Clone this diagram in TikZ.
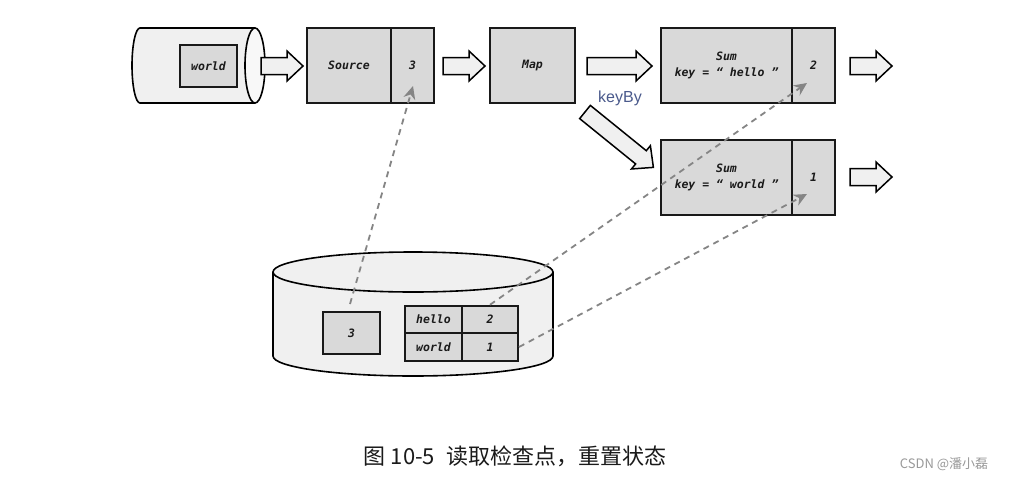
\documentclass[tikz,border=0pt]{standalone}
\usepackage{fontspec}
\newfontfamily\code{DejaVu Sans Mono}
\newfontfamily\cjk{Noto Sans CJK SC}
\newfontfamily\kbf{Liberation Sans}
\usetikzlibrary{arrows.meta,calc}
\definecolor{boxg}{HTML}{D9D9D9}
\definecolor{cylg}{HTML}{F0F0F0}
\definecolor{cylw}{HTML}{F8F8F8}
\definecolor{dashg}{HTML}{858585}
\definecolor{kbc}{HTML}{4A5A8C}
\definecolor{txt}{HTML}{1A1A1A}
\tikzset{
 cell/.style={draw=black!90, fill=boxg, line width=2pt, inner sep=0pt, text=txt,
   font=\code\bfseries\itshape\fontsize{11.5}{16}\selectfont, align=center},
 blk/.style={draw=black, fill=cylg, line width=1.5pt, line join=miter},
 ckpt/.style={draw=dashg, line width=1.8pt, dash pattern=on 6pt off 5pt,
   -{Stealth[length=13pt,width=12pt]}},
 pics/barrow/.style={code={\draw[blk] (0,-8.5) -- ({#1-16},-8.5) -- ({#1-16},-15) -- (#1,0) -- ({#1-16},15) -- ({#1-16},8.5) -- (0,8.5) -- cycle;}}
}
\begin{document}
\begin{tikzpicture}[x=1pt,y=1pt]
\useasboundingbox[fill=white] (0,0) rectangle (1010,-480);
% horizontal cylinder (input)
\fill[cylg] (140,-28) -- (255,-28) -- (255,-103) -- (140,-103) arc[start angle=270, end angle=90, x radius=8, y radius=37.5] -- cycle;
\draw[line width=1.6pt] (255,-28) -- (140,-28) arc[start angle=90, end angle=270, x radius=8, y radius=37.5] -- (255,-103);
\draw[line width=1.6pt, fill=cylw] (255,-65.5) ellipse[x radius=10, y radius=37.5];
\node[cell, minimum width=57pt, minimum height=42pt] (w) at (208.5,-66) {world};
% block arrows
\pic at (261,-66) {barrow=42};
\pic at (443,-66) {barrow=42};
\pic at (587,-66) {barrow=65};
\pic at (850,-66) {barrow=42};
\pic at (850,-177) {barrow=42};
\pic[rotate=-39] at (585,-112) {barrow=88};
% operators
\node[cell, minimum width=84pt, minimum height=75pt] (src) at (349,-65.5) {Source};
\node[cell, minimum width=43pt, minimum height=75pt] (srcv) at (412.5,-65.5) {3};
\node[cell, minimum width=85pt, minimum height=75pt] (map) at (532.5,-65.5) {Map};
\node[cell, minimum width=131pt, minimum height=75pt] (sh) at (726.5,-65.5) {Sum\\key = “ hello ”};
\node[cell, minimum width=43pt, minimum height=75pt] (shv) at (813.5,-65.5) {2};
\node[cell, minimum width=131pt, minimum height=75pt] (sw) at (726.5,-177.5) {Sum\\key = “ world ”};
\node[cell, minimum width=43pt, minimum height=75pt] (swv) at (813.5,-177.5) {1};
\node[font=\kbf\fontsize{16}{16}\selectfont, text=kbc] (kb) at (620,-98) {keyBy};
% checkpoint storage cylinder
\fill[cylg] (273,-272) -- (273,-356) arc[start angle=180, end angle=360, x radius=140, y radius=20] -- (553,-272) -- cycle;
\draw[line width=1.6pt] (273,-272) -- (273,-356) arc[start angle=180, end angle=360, x radius=140, y radius=20] -- (553,-272);
\draw[line width=1.6pt, fill=cylg] (413,-272) ellipse[x radius=140, y radius=20];
\node[cell, minimum width=57pt, minimum height=42pt] (s3) at (351.5,-333) {3};
\node[cell, minimum width=57pt, minimum height=27.5pt] (th) at (433.5,-319.5) {hello};
\node[cell, minimum width=56pt, minimum height=27.5pt] (v2) at (490,-319.5) {2};
\node[cell, minimum width=57pt, minimum height=27.5pt] (tw) at (433.5,-347) {world};
\node[cell, minimum width=56pt, minimum height=27.5pt] (v1) at (490,-347) {1};
% restore connectors
\coordinate (t1) at (413,-86);
\coordinate (t2) at (807,-83);
\coordinate (t3) at (807,-194);
\draw[ckpt] ($(s3.north)+(-1.5,7)$) -- (t1);
\draw[ckpt] (v2.north) -- (t2);
\draw[ckpt] (v1.east) -- (t3);
% caption
\node[font=\cjk\fontsize{22}{22}\selectfont, text=txt] (cap) at (515,-456) {图 10-5\enspace 读取检查点，重置状态};
\node[font=\cjk\fontsize{13}{13}\selectfont, text=black!40] (wm) at (944,-464) {CSDN @潘小磊};
\end{tikzpicture}
\end{document}
